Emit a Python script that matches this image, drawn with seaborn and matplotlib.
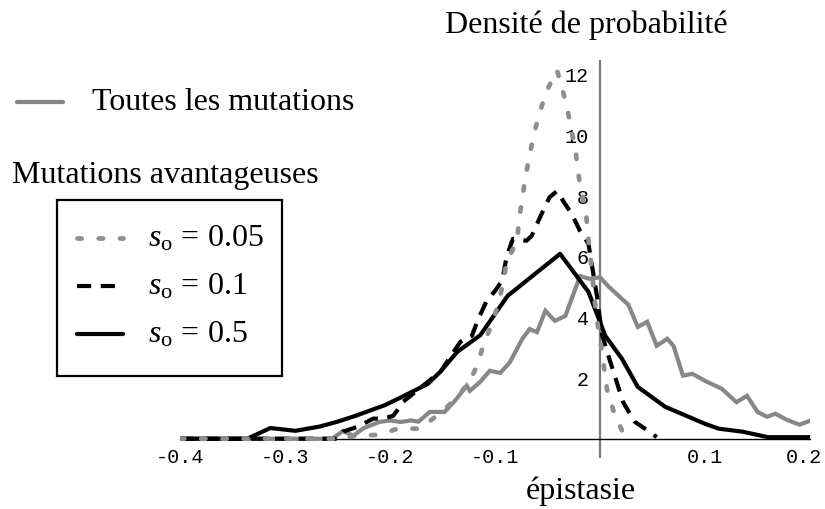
import matplotlib
matplotlib.use("Agg")
import matplotlib.pyplot as plt
import matplotlib.transforms as mtransforms
from matplotlib.lines import Line2D
from matplotlib.patches import Rectangle
from matplotlib.ticker import MultipleLocator, FixedLocator, FixedFormatter
import seaborn as sns

# ---- data ----
all_x = [-0.40, -0.255, -0.245, -0.235, -0.225, -0.21, -0.20, -0.19, -0.18, -0.173,
         -0.162, -0.148, -0.138, -0.127, -0.124, -0.114, -0.105, -0.095, -0.086, -0.074,
         -0.067, -0.060, -0.052, -0.043, -0.033, -0.019, -0.010, 0.000, 0.008, 0.019,
         0.027, 0.036, 0.045, 0.054, 0.064, 0.070, 0.079, 0.088, 0.100, 0.116,
         0.130, 0.140, 0.150, 0.159, 0.167, 0.178, 0.190, 0.200]
all_y = [0.0, 0.0, 0.25, 0.1, 0.35, 0.55, 0.6, 0.55, 0.6, 0.56,
         0.88, 0.88, 1.25, 1.74, 1.57, 1.87, 2.23, 2.16, 2.5, 3.28,
         3.6, 3.5, 4.2, 3.87, 4.03, 5.34, 5.25, 5.3, 5.0, 4.65,
         4.4, 3.67, 3.84, 3.05, 3.28, 3.05, 2.07, 2.13, 1.9, 1.64,
         1.2, 1.41, 0.88, 0.72, 0.82, 0.62, 0.46, 0.59]

s005_x = [-0.40, -0.25, -0.23, -0.21, -0.193, -0.171, -0.165, -0.15, -0.135, -0.124,
          -0.117, -0.111, -0.103, -0.097, -0.092, -0.089, -0.079, -0.077, -0.074, -0.071,
          -0.067, -0.063, -0.057, -0.051, -0.041, -0.036, -0.031, -0.027, -0.023, -0.021,
          -0.017, -0.013, -0.011, -0.008, -0.005, -0.002, 0.001, 0.004, 0.007, 0.013,
          0.021]
s005_y = [0.0, 0.0, 0.1, 0.13, 0.33, 0.33, 0.5, 0.9, 1.4, 1.9,
          2.4, 3.08, 3.77, 4.4, 5.15, 5.8, 6.5, 7.2, 7.9, 8.6,
          9.3, 10.0, 10.75, 11.4, 12.1, 11.5, 10.8, 10.1, 9.4, 8.75,
          8.0, 7.3, 6.55, 5.6, 4.5, 3.7, 3.05, 2.3, 1.55, 0.9,
          0.26]

s01_x = [-0.40, -0.25, -0.245, -0.231, -0.216, -0.207, -0.197, -0.19, -0.188, -0.152,
         -0.133, -0.122, -0.116, -0.108, -0.100, -0.093, -0.089, -0.083, -0.070, -0.065,
         -0.057, -0.048, -0.041, -0.035, -0.027, -0.019, -0.011, -0.003, 0.002, 0.008,
         0.014, 0.022, 0.033, 0.050, 0.054]
s01_y = [0.0, 0.0, 0.23, 0.39, 0.66, 0.66, 0.75, 1.08, 1.2, 2.2,
         3.18, 3.38, 3.93, 4.52, 4.85, 5.2, 5.97, 6.56, 6.5, 6.66,
         7.28, 7.93, 8.13, 7.8, 7.38, 6.82, 6.4, 4.7, 3.4, 2.72,
         2.07, 1.2, 0.56, 0.16, 0.05]

s05_x = [-0.40, -0.336, -0.314, -0.29, -0.267, -0.25, -0.233, -0.217, -0.205, -0.19,
         -0.164, -0.152, -0.136, -0.114, -0.088, -0.038, -0.011, 0.005, 0.021, 0.036,
         0.062, 0.100, 0.113, 0.136, 0.160, 0.200]
s05_y = [0.0, 0.0, 0.35, 0.26, 0.4, 0.56, 0.75, 0.95, 1.1, 1.35,
         1.8, 2.2, 2.85, 3.4, 4.69, 6.07, 4.82, 3.38, 2.62, 1.7,
         1.05, 0.49, 0.33, 0.23, 0.05, 0.05]

xtick_vals = [-0.4, -0.3, -0.2, -0.1, 0.1, 0.2]
xtick_labels = ["-0.4", "-0.3", "-0.2", "-0.1", "0.1", "0.2"]
ytick_vals = [2, 4, 6, 8, 10, 12]
ytick_labels = ["2", "4", "6", "8", "10", "12"]

legend_labels = [r"$s_{\mathrm{o}}$$\,=\,0.05$", r"$s_{\mathrm{o}}$$\,=\,0.1$", r"$s_{\mathrm{o}}$$\,=\,0.5$"]

# ---- style ----
sns.set_theme(style="white")
plt.rcParams["font.family"] = ["Liberation Serif", "DejaVu Serif"]
plt.rcParams["mathtext.fontset"] = "custom"
plt.rcParams["mathtext.rm"] = "Liberation Serif"
plt.rcParams["mathtext.it"] = "Liberation Serif:italic"
plt.rcParams["axes.unicode_minus"] = False
plt.rcParams["text.color"] = "black"
plt.rcParams["axes.labelcolor"] = "black"
plt.rcParams["xtick.color"] = "black"
plt.rcParams["ytick.color"] = "black"

W, H = 825, 510
fig = plt.figure(figsize=(W / 100, H / 100), dpi=100)
fig.patch.set_facecolor("white")

# axes: x -0.4..0.2 -> px 180..810 ; y -0.6..12.4 -> py 458..62
x0, x1 = 180, 810
ytop, ybot = 62, 458
ax = fig.add_axes([x0 / W, 1 - ybot / H, (x1 - x0) / W, (ybot - ytop) / H])
ax.set_facecolor("none")
ax.set_xlim(-0.4, 0.2)
ax.set_ylim(-0.6, 12.4)

GRAY = "#878787"
DOT_GRAY = "#8e8e8e"
DOTS = (0, (0.9, 3.6))
DASHES = (0, (3.4, 2.3))

sns.lineplot(x=all_x, y=all_y, ax=ax, color=GRAY, linewidth=3.0, sort=False,
             estimator=None, solid_joinstyle="miter", zorder=3)
sns.lineplot(x=s05_x, y=s05_y, ax=ax, color="black", linewidth=3.0, sort=False,
             estimator=None, zorder=4)
sns.lineplot(x=s01_x, y=s01_y, ax=ax, color="black", linewidth=3.0, sort=False,
             estimator=None, linestyle=DASHES, dash_capstyle="butt", zorder=5)
sns.lineplot(x=s005_x, y=s005_y, ax=ax, color=DOT_GRAY, linewidth=3.4, sort=False,
             estimator=None, linestyle=DOTS, dash_capstyle="round", zorder=6)

# Mathematica-like axes crossing at origin
for s in ["top", "right"]:
    ax.spines[s].set_visible(False)
ax.spines["left"].set_position(("data", 0))
ax.spines["bottom"].set_position(("data", 0))
ax.spines["left"].set_color("#7a7a7a")
ax.spines["left"].set_linewidth(1.6)
ax.spines["bottom"].set_color("black")
ax.spines["bottom"].set_linewidth(1.0)
ax.spines["bottom"].set_bounds(-0.4, 0.2)

ax.xaxis.set_major_locator(FixedLocator(xtick_vals))
ax.xaxis.set_major_formatter(FixedFormatter(xtick_labels))
ax.xaxis.set_minor_locator(MultipleLocator(0.02))
ax.yaxis.set_major_locator(FixedLocator(ytick_vals))
ax.yaxis.set_major_formatter(FixedFormatter(ytick_labels))
ax.yaxis.set_minor_locator(MultipleLocator(1))

tickfont = ["Liberation Mono", "DejaVu Sans Mono"]
ax.tick_params(axis="x", which="major", direction="in", length=5, width=0.8,
               color="black", pad=6, labelsize=14.5, labelcolor="black")
ax.tick_params(axis="x", which="minor", direction="in", length=3.5, width=0.8, color="black")
ax.tick_params(axis="y", which="major", direction="in", length=3.5, width=0.8,
               color="black", pad=8, labelsize=14.5, labelcolor="black")
ax.tick_params(axis="y", which="minor", direction="in", length=3.5, width=0.8, color="black")
for lab in ax.get_xticklabels() + ax.get_yticklabels():
    lab.set_family(tickfont)
ax.grid(False)

# keep the last x tick label inside the canvas (nudge a few px left)
xlabels = ax.get_xticklabels()
shift = mtransforms.ScaledTranslation(-6 / 100, 0, fig.dpi_scale_trans)
xlabels[-1].set_transform(xlabels[-1].get_transform() + shift)


def px(x, y):
    return x / W, 1 - y / H


# axis titles
fig.text(*px(586, 25), "Densité de probabilité", ha="center", va="center", fontsize=23)
fig.text(*px(581, 491), "épistasie", ha="center", va="center", fontsize=23)

# legend: all mutations
fig.add_artist(Line2D([17 / W, 63 / W], [1 - 103 / H] * 2, color=GRAY, lw=3.0))
fig.text(*px(92, 103), "Toutes les mutations", ha="left", va="center", fontsize=23)

# legend: advantageous mutations
fig.text(*px(12, 175), "Mutations avantageuses", ha="left", va="center", fontsize=23)
fig.add_artist(Rectangle((57 / W, 1 - 377 / H), (282 - 57) / W, (377 - 201) / H,
                         transform=fig.transFigure, fill=False, ec="black", lw=1.6))
entry_y = [239, 287, 335]
styles = [dict(color=DOT_GRAY, ls=DOTS, dash_capstyle="round", lw=3.4),
          dict(color="black", ls=DASHES, dash_capstyle="butt", lw=3.0),
          dict(color="black", ls="-", lw=3.0)]
for yy, st, lab in zip(entry_y, styles, legend_labels):
    fig.add_artist(Line2D([77 / W, 123 / W], [1 - yy / H] * 2, **st))
    fig.text(*px(148, yy), lab, ha="left", va="center", fontsize=23)

fig.savefig("out.png", dpi=100)
